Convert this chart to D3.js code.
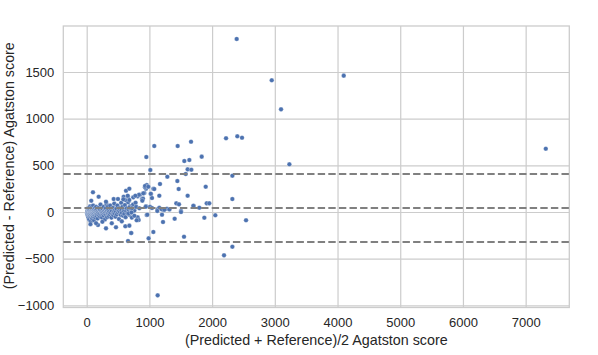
<!DOCTYPE html>
<html>
<head>
<meta charset="utf-8">
<script src="https://cdn.jsdelivr.net/npm/d3@7"></script>
<style>
  html, body { margin: 0; padding: 0; background: #fff; overflow: hidden; }
  svg { display: block; }
  text { font-family: "Liberation Sans", Arial, sans-serif; }
  .axis-label { font-size: 14.3px; fill: #262626; }
  .tick text { font-size: 13px; fill: #262626; }
  .tick line { stroke: #cccccc; stroke-width: 1.2; }
  .domain { display: none; }
</style>
</head>
<body>
<div id="chart"></div>
<script>
// mean and limits of agreement
const meanDiff = 43;
const upperLoA = 407;
const lowerLoA = -321;

const xTicks = [0, 1000, 2000, 3000, 4000, 5000, 6000, 7000];
const yTicks = [-1000, -500, 0, 500, 1000, 1500];

// [ (pred+ref)/2 , pred-ref ]
const clusterPoints = [
  [5,-10],[10,5],[12,-25],[15,20],[18,-40],[20,0],[22,-15],[25,40],[28,-60],[30,10],
  [32,-30],[35,-5],[38,25],[40,-80],[42,-20],[45,15],[48,-45],[50,5],[52,-10],[55,60],
  [58,-35],[60,-15],[62,30],[65,-100],[68,0],[70,-25],[72,45],[75,-55],[78,10],[80,-5],
  [82,-30],[85,20],[88,-70],[90,-10],[92,35],[95,-40],[98,5],[100,-20],[102,70],[105,-50],
  [108,15],[110,-5],[112,-30],[115,25],[118,-90],[120,0],[125,-15],[128,40],[130,-40],[135,10],
  [138,-60],[140,-5],[145,20],[148,-25],[150,55],[155,-10],[158,-45],[160,5],[165,30],[170,-20],
  [175,-70],[180,10],[185,-5],[190,45],[195,-35],[200,0],[205,-15],[210,25],[215,-50],[220,80],
  [225,-5],[230,15],[235,-30],[240,5],[245,-60],[250,-10],[255,30],[260,-25],[265,0],[270,55],
  [275,-40],[280,10],[285,-15],[290,-80],[295,20],[300,-5],[305,40],[310,-30],[315,85],[320,0],
  [325,-55],[330,15],[335,-20],[340,60],[345,-10],[350,25],[355,-45],[360,5],[370,-25],[375,70],
  [380,-5],[390,30],[395,-60],[400,10],[410,-20],[420,45],[425,-35],[430,0],[440,90],[445,-15],
  [450,20],[460,-50],[465,5],[475,35],[480,-25],[490,70],[500,-5],[510,15],[515,-75],[520,40],
  [530,0],[540,-30],[550,100],[555,20],[560,-10],[570,55],[580,-40],[590,30],[595,5],[600,-20],
  [610,75],[620,-55],[630,10],[640,40],[650,-15],[660,105],[670,25],[680,-30],[690,60],[700,-5],
  [710,30],[720,-60],[730,45],[740,80],[760,15],[780,100]
];

const scatterPoints = [
  [100,211],[191,164],[73,121],[308,110],[430,139],[499,139],[590,164],[616,129],[659,164],[627,228],
  [680,250],[180,-139],[308,-175],[616,-153],[919,204],[850,185],[813,168],[743,157],[680,129],[654,175],
  [882,139],[813,-57],[829,-86],[680,-146],[707,-225],[659,-311],[467,-164],[560,-100],[400,-120],[250,-105],
  [150,-120],[60,-130],[957,289],[946,250],[1063,250],[1026,193],[1158,175],[1041,150],[946,61],[1010,57],
  [1041,43],[1131,30],[1158,45],[1228,20],[1280,35],[1320,28],[680,47],[720,40],[790,55],[840,40],
  [670,-15],[715,-5],[760,-40],[957,-32]
];

const outlierPoints = [
  [2392,1854],[2951,1411],[3099,1100],[3232,511],[2222,790],[2402,811],[2477,796],[951,589],[1078,707],[1015,450],
  [1451,707],[1664,753],[1557,546],[1637,557],[1834,593],[1610,457],[1669,453],[1579,407],[1286,378],[2323,389],
  [1446,332],[4099,1461],[7321,678],[1169,300],[930,265],[1898,271],[1467,246],[1078,246],[1021,196],
  [834,185],[776,175],[1610,175],[898,143],[887,121],[1429,93],[1472,82],[1706,64],[1914,93],[1955,93],
  [2323,139],[941,57],[1126,11],[1504,11],[1201,-29],[1217,-107],[1403,-72],[1876,-61],[2051,-35],[797,-89],
  [1063,-214],[711,-225],[988,-282],[1552,-265],[2323,-372],[1132,-893],[2190,-464],[2541,-89],[1701,67],[1796,46],
  [1504,0],[967,-29],[930,279],[983,271],[903,200],[584,136],[1196,29],[1238,25]
];

const points = clusterPoints.concat(scatterPoints, outlierPoints);

const width = 598, height = 355;
const margin = { left: 63.3, right: 28.7, top: 26, bottom: 47.5 };
const innerWidth = width - margin.left - margin.right;
const innerHeight = height - margin.top - margin.bottom;

const svg = d3.select("#chart").append("svg")
  .attr("width", width)
  .attr("height", height);

const g = svg.append("g")
  .attr("transform", `translate(${margin.left},${margin.top})`);

const xScale = d3.scaleLinear().domain([-373, 7696]).range([0, innerWidth]);
const yScale = d3.scaleLinear().domain([-1023, 1993]).range([innerHeight, 0]);

const xAxis = d3.axisBottom(xScale)
  .tickValues(xTicks)
  .tickSize(-innerHeight)
  .tickPadding(10)
  .tickFormat(d3.format("d"));
const yAxis = d3.axisLeft(yScale)
  .tickValues(yTicks)
  .tickSize(-innerWidth)
  .tickPadding(9)
  .tickFormat(d => d < 0 ? "\u2212" + Math.abs(d) : d);

g.append("g").attr("class", "x axis")
  .attr("transform", `translate(0,${innerHeight})`)
  .call(xAxis);
g.append("g").attr("class", "y axis").call(yAxis);

// frame
g.append("rect")
  .attr("width", innerWidth)
  .attr("height", innerHeight)
  .attr("fill", "none")
  .attr("stroke", "#cccccc")
  .attr("stroke-width", 1.3);

// points
g.append("g").selectAll("circle").data(points)
  .enter().append("circle")
  .attr("cx", d => xScale(d[0]))
  .attr("cy", d => yScale(d[1]))
  .attr("r", 2.3)
  .attr("fill", "#4c72b0")
  .attr("stroke", "#ffffff")
  .attr("stroke-width", 0.3);

// mean and limits of agreement
g.append("g").selectAll("line").data([upperLoA, meanDiff, lowerLoA])
  .enter().append("line")
  .attr("x1", 0)
  .attr("x2", innerWidth)
  .attr("y1", d => yScale(d))
  .attr("y2", d => yScale(d))
  .attr("stroke", "#808080")
  .attr("stroke-width", 2)
  .attr("stroke-dasharray", "7.4,3.2");

svg.append("text")
  .attr("class", "axis-label")
  .attr("x", margin.left + innerWidth / 2)
  .attr("y", 344.5)
  .attr("text-anchor", "middle")
  .text("(Predicted + Reference)/2 Agatston score");

svg.append("text")
  .attr("class", "axis-label")
  .attr("transform", `translate(14,${margin.top + innerHeight / 2 - 1}) rotate(-90)`)
  .attr("text-anchor", "middle")
  .text("(Predicted - Reference) Agatston score");
</script>
</body>
</html>
